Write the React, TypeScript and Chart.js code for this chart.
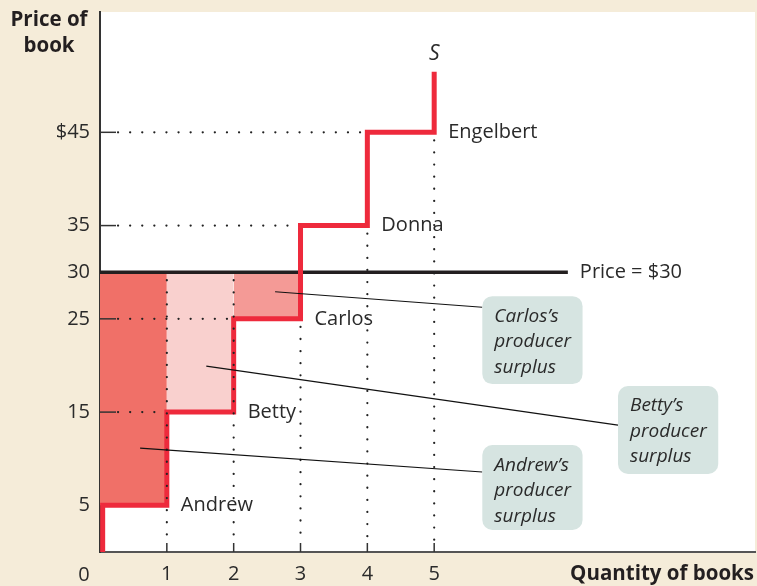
import React, { useEffect, useRef } from "react";
import { Chart, registerables } from "chart.js";
Chart.register(...registerables);

// ---- data ----
const supplyX = [0.04, 0.04, 1, 1, 2, 2, 3, 3, 4, 4, 5, 5];
const supplyY = [0, 5, 5, 15, 15, 25, 25, 35, 35, 45, 45, 51.5];
const sellers = ["Andrew", "Betty", "Carlos", "Donna", "Engelbert"];
const sellerCost = [5, 15, 25, 35, 45];
const marketPrice = 30;
const priceLineEnd = 7;
const yTickValues = [5, 15, 25, 30, 35, 45];
const xTickValues = [1, 2, 3, 4, 5];
const surplusSellers = ["Andrew", "Betty", "Carlos"];
const surplusColors = ["#f07068", "#f9d0ce", "#f49a96"];
// annotation boxes (data units): [x0, x1, yTop, yBottom]
const boxRects = [
  [5.72, 7.22, 11.46, 2.36],
  [7.75, 9.25, 17.8, 8.36],
  [5.72, 7.22, 27.43, 18.0],
];
// leader lines: [fromX, fromY, toX, toY]
const leaders = [
  [0.6, 11.14, 5.72, 8.57],
  [1.59, 19.93, 7.75, 13.6],
  [2.62, 27.9, 5.72, 26.25],
];

const FONT = "'Open Sans', 'Noto Sans', sans-serif";
const TXT = "#2a2a2a";

export default function App() {
  const ref = useRef<HTMLCanvasElement>(null);
  useEffect(() => {
    const canvas = ref.current!;
    const supply = supplyX.map((x, i) => ({ x, y: supplyY[i] }));
    const surplusSets = surplusSellers.map((name, i) => ({
      label: name + " surplus",
      data: [
        { x: i === 0 ? 0 : i, y: marketPrice },
        { x: i + 1, y: marketPrice },
      ],
      borderWidth: 0,
      pointRadius: 0,
      backgroundColor: surplusColors[i],
      fill: { value: sellerCost[i] },
      order: 10,
    }));

    const plugin = {
      id: "decor",
      beforeDraw(chart: any) {
        const { ctx, chartArea: a } = chart;
        ctx.save();
        ctx.fillStyle = "#f5ecd9";
        ctx.fillRect(0, 0, chart.width, chart.height);
        ctx.fillStyle = "#ffffff";
        ctx.fillRect(a.left, a.top, a.right - a.left, a.bottom - a.top);
        ctx.restore();
      },
      afterDatasetsDraw(chart: any) {
        const { ctx, scales } = chart;
        const X = (v: number) => scales.x.getPixelForValue(v);
        const Y = (v: number) => scales.y.getPixelForValue(v);
        ctx.save();
        // dotted guides
        ctx.strokeStyle = "#222";
        ctx.lineWidth = 2.2;
        ctx.lineCap = "round";
        ctx.setLineDash([0.1, 12]);
        const hGuides = [
          [45, 4],
          [35, 3],
          [25, 2],
          [15, 1],
        ];
        hGuides.forEach(([y, x1]) => {
          ctx.beginPath();
          ctx.moveTo(X(0) + 18, Y(y));
          ctx.lineTo(X(x1) - 4, Y(y));
          ctx.stroke();
        });
        const vTops = [marketPrice, marketPrice, 25, 35, 45];
        xTickValues.forEach((x, i) => {
          ctx.beginPath();
          ctx.moveTo(X(x), Y(vTops[i]) + 8);
          ctx.lineTo(X(x), Y(0) - 12);
          ctx.stroke();
        });
        ctx.setLineDash([]);
        ctx.lineCap = "butt";
        ctx.lineWidth = 1.5;
        ctx.strokeStyle = "#333";
        [45, 35, 25, 15].forEach((y) => {
          ctx.beginPath();
          ctx.moveTo(X(0), Y(y));
          ctx.lineTo(X(0) + 16, Y(y));
          ctx.stroke();
        });
        xTickValues.forEach((x) => {
          ctx.beginPath();
          ctx.moveTo(X(x), Y(0));
          ctx.lineTo(X(x), Y(0) - 9);
          ctx.stroke();
        });
        // leader lines
        ctx.lineWidth = 1.1;
        ctx.strokeStyle = "#111";
        leaders.forEach(([a, b, c, d]) => {
          ctx.beginPath();
          ctx.moveTo(X(a), Y(b));
          ctx.lineTo(X(c), Y(d));
          ctx.stroke();
        });
        // boxes
        boxRects.forEach(([x0, x1, yt, yb], i) => {
          const px = X(x0), py = Y(yt), w = X(x1) - px, h = Y(yb) - py;
          ctx.fillStyle = "#d6e4e1";
          ctx.beginPath();
          (ctx as any).roundRect(px, py, w, h, 10);
          ctx.fill();
          ctx.fillStyle = TXT;
          ctx.font = `italic 19px ${FONT}`;
          ctx.textAlign = "left";
          ctx.textBaseline = "middle";
          const lines = [surplusSellers[i] + "\u2019s", "producer", "surplus"];
          lines.forEach((t, k) => ctx.fillText(t, px + 12, py + 20 + k * 25.5));
        });
        // seller labels
        ctx.font = `20px ${FONT}`;
        ctx.fillStyle = TXT;
        ctx.textAlign = "left";
        ctx.textBaseline = "middle";
        sellers.forEach((s, i) => {
          ctx.fillText(s, X(i + 1) + 14, Y(sellerCost[i]));
        });
        ctx.fillText("Price = $30", X(priceLineEnd) + 12, Y(marketPrice));
        ctx.font = `italic 21px ${FONT}`;
        ctx.textAlign = "center";
        ctx.fillText("S", X(5), Y(53.4));
        // axis titles
        ctx.font = `bold 20.5px ${FONT}`;
        ctx.fillStyle = "#231f20";
        ctx.fillText("Price of", 49, 20);
        ctx.fillText("book", 49, 46);
        ctx.textAlign = "right";
        ctx.fillText("Quantity of books", 754, 574);
        ctx.font = `20px ${FONT}`;
        ctx.fillStyle = TXT;
        ctx.textAlign = "center";
        ctx.fillText("0", 84, 575);
        ctx.restore();
      },
    };

    const chart = new Chart(canvas, {
      type: "line",
      data: {
        datasets: [
          {
            label: "Supply",
            data: supply,
            borderColor: "#ee2a3c",
            borderWidth: 5,
            pointRadius: 0,
            fill: false,
            borderJoinStyle: "miter",
            order: 1,
          } as any,
          {
            label: "Price",
            data: [
              { x: 0, y: marketPrice },
              { x: priceLineEnd, y: marketPrice },
            ],
            borderColor: "#231f20",
            borderWidth: 3.5,
            pointRadius: 0,
            fill: false,
            order: 2,
          },
          ...(surplusSets as any[]),
        ],
      },
      options: {
        animation: false,
        responsive: false,
        events: [],
        layout: { padding: { top: 12, right: 2, left: 0, bottom: 0 } },
        plugins: { legend: { display: false }, tooltip: { enabled: false } },
        scales: {
          x: {
            type: "linear",
            min: 0,
            max: 9.8,
            grid: { display: false, drawTicks: false },
            border: { display: true, color: "#555", width: 2 },
            afterBuildTicks: (s: any) => {
              s.ticks = xTickValues.map((v) => ({ value: v }));
            },
            afterFit: (s: any) => {
              s.height = 34;
              s.paddingLeft = 0;
              s.paddingRight = 0;
            },
            ticks: {
              color: TXT,
              font: { family: FONT, size: 20 },
              padding: 10,
              maxRotation: 0,
              autoSkip: false,
            },
          },
          y: {
            type: "linear",
            min: 0,
            max: 57.9,
            grid: { display: false, drawTicks: false },
            border: { display: true, color: "#333", width: 2 },
            afterBuildTicks: (s: any) => {
              s.ticks = yTickValues.map((v) => ({ value: v }));
            },
            afterFit: (s: any) => {
              s.width = 100;
              s.paddingTop = 0;
              s.paddingBottom = 0;
            },
            ticks: {
              color: TXT,
              font: { family: FONT, size: 20 },
              padding: 10,
              autoSkip: false,
              callback: (v: any) => (v === 45 ? "$45" : String(v)),
            },
          },
        },
      },
      plugins: [plugin],
    } as any);
    return () => chart.destroy();
  }, []);
  return (
    <div style={{ position: "fixed", left: 0, top: 0, width: 757, height: 586 }}>
      <canvas ref={ref} width={757} height={586} style={{ width: 757, height: 586 }} />
    </div>
  );
}
